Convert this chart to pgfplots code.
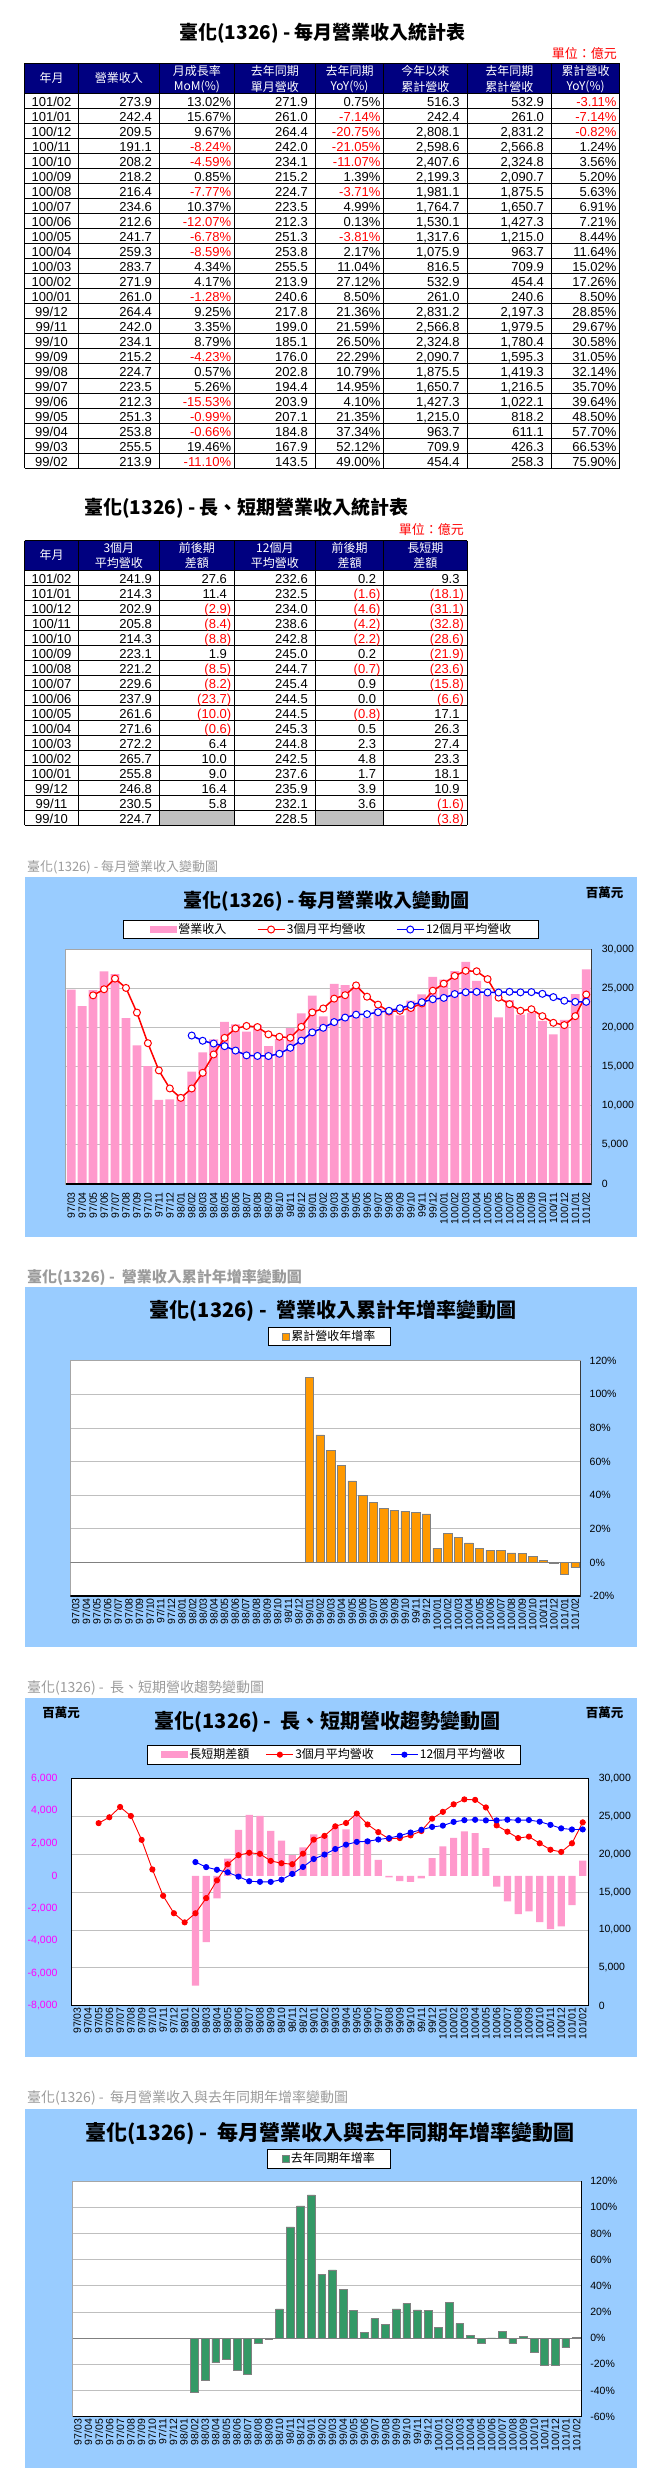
\documentclass[border=0pt]{standalone}
\usepackage{fontspec}
\setmainfont{Liberation Sans}
\newfontfamily\cjk{Noto Sans CJK TC}
\usepackage{xcolor}
\usepackage{pgfplots}
\pgfplotsset{compat=1.18}
\definecolor{navyh}{RGB}{0,0,128}
\definecolor{chartbg}{RGB}{153,204,255}
\definecolor{barpink}{RGB}{255,153,204}
\definecolor{barorange}{RGB}{255,153,0}
\definecolor{bargreen}{RGB}{51,153,102}
\definecolor{capgray}{RGB}{155,155,155}
\definecolor{cellgray}{RGB}{192,192,192}
\definecolor{magentat}{RGB}{255,0,255}
\newcommand\fs[1]{\fontsize{#1}{#1}\selectfont}
\newcommand\Rd[1]{\textcolor{red}{#1}}
\newcommand\Rp[1]{\textcolor{red}{#1}\kern-4.33pt}
\tikzset{
 tc/.style={anchor=base, inner sep=0pt, font=\fs{13}},
 tr/.style={anchor=base east, inner sep=0pt, font=\fs{13}},
 hd/.style={anchor=center, inner sep=0pt, font=\cjk\fs{12}, text=white},
 captxt/.style={anchor=west, inner sep=0pt, text=capgray},
 ttl/.style={anchor=center, inner sep=0pt},
}
\newcommand\rowA[9]{%
 \pgfmathsetmacro\yb{93.3+15*#1-1.6}%
 \node[tc] at (51.5,\yb) {#2};%
 \node[tr] at (156.4,\yb) {#3\phantom{)}};%
 \node[tr] at (231.4,\yb) {#4};%
 \node[tr] at (312.3,\yb) {#5\phantom{)}};%
 \node[tr] at (380.6,\yb) {#6};%
 \node[tr] at (464.1,\yb) {#7\phantom{)}};%
 \node[tr] at (548.4,\yb) {#8\phantom{)}};%
 \node[tr] at (616.7,\yb) {#9};%
}
\newcommand\rowB[7]{%
 \pgfmathsetmacro\yb{570+15*#1-1.6}%
 \node[tc] at (51.5,\yb) {#2};%
 \node[tr] at (156.4,\yb) {#3\phantom{)}};%
 \node[tr] at (231.4,\yb) {#4\phantom{)}};%
 \node[tr] at (312.3,\yb) {#5\phantom{)}};%
 \node[tr] at (380.6,\yb) {#6\phantom{)}};%
 \node[tr] at (464.1,\yb) {#7\phantom{)}};%
}
\pgfplotsset{
 months/.style={xtick={0,...,47}, xticklabels={97/03,97/04,97/05,97/06,97/07,97/08,97/09,97/10,97/11,97/12,98/01,98/02,98/03,98/04,98/05,98/06,98/07,98/08,98/09,98/10,98/11,98/12,99/01,99/02,99/03,99/04,99/05,99/06,99/07,99/08,99/09,99/10,99/11,99/12,100/01,100/02,100/03,100/04,100/05,100/06,100/07,100/08,100/09,100/10,100/11,100/12,101/01,101/02}},
 chart/.style={scale only axis, anchor=south west, xmin=-0.5, xmax=47.5, months,
   scaled y ticks=false, scaled x ticks=false,
   xticklabel style={rotate=90, anchor=east, font=\fs{10.5}, inner ysep=0pt},
   yticklabel style={font=\fs{10.5}, inner sep=0pt},
   tick style={draw=none},
   axis background/.style={fill=white},
   grid style={line width=0.8pt, draw=gray!50},
   /pgf/number format/assume math mode=true,
   legend columns=3,
   legend style={draw=black, line width=0.9pt, font=\cjk\fs{12}, anchor=center, inner ysep=2pt, nodes={inner sep=1.5pt}},
 },
 lineleg/.style={legend image code/.code={\draw[mark repeat=2,mark phase=2,##1] plot coordinates {(0pt,0pt) (13.5pt,0pt) (27pt,0pt)};}},
}
\begin{document}
\begin{tikzpicture}
\useasboundingbox (0,0) rectangle (661pt,-2479pt);
\fill[white] (0,0) rectangle (661pt,-2479pt);
\begin{scope}[x=1pt,y=-1pt]
% ---------- Table 1 ----------
\node[ttl, font=\cjk\bfseries\fs{19}] at (322.5,33.3) {臺化(1326) - 每月營業收入統計表};
\node[anchor=east, inner sep=0pt, font=\cjk\fs{13}, text=red] at (617,53.3) {單位：億元};
\fill[navyh] (24.5,63.3) rectangle (619.7,93.3);
\draw[line width=0.9pt] (24.5,63.3) -- (619.7,63.3);
\foreach \k in {0,...,25} \draw[line width=0.9pt] (24.5,{93.3+15*\k}) -- (619.7,{93.3+15*\k});
\foreach \xx in {24.5,78.4,159.4,234.4,315.3,383.6,467.1,551.4,619.7} \draw[line width=0.9pt] (\xx,63.3) -- (\xx,468.3);
\node[hd] at (51.5,78.3) {年月};
\node[hd] at (118.9,78.3) {營業收入};
\node[hd] at (196.9,71) {月成長率}; \node[hd] at (196.9,86.7) {MoM(\%)};
\node[hd] at (274.9,71) {去年同期}; \node[hd] at (274.9,86.7) {單月營收};
\node[hd] at (349.5,71) {去年同期}; \node[hd] at (349.5,86.7) {YoY(\%)};
\node[hd] at (425.4,71) {今年以來}; \node[hd] at (425.4,86.7) {累計營收};
\node[hd] at (509.3,71) {去年同期}; \node[hd] at (509.3,86.7) {累計營收};
\node[hd] at (585.6,71) {累計營收}; \node[hd] at (585.6,86.7) {YoY(\%)};
\rowA{1}{101/02}{273.9}{13.02\%}{271.9}{0.75\%}{516.3}{532.9}{\Rd{-3.11\%}}
\rowA{2}{101/01}{242.4}{15.67\%}{261.0}{\Rd{-7.14\%}}{242.4}{261.0}{\Rd{-7.14\%}}
\rowA{3}{100/12}{209.5}{9.67\%}{264.4}{\Rd{-20.75\%}}{2,808.1}{2,831.2}{\Rd{-0.82\%}}
\rowA{4}{100/11}{191.1}{\Rd{-8.24\%}}{242.0}{\Rd{-21.05\%}}{2,598.6}{2,566.8}{1.24\%}
\rowA{5}{100/10}{208.2}{\Rd{-4.59\%}}{234.1}{\Rd{-11.07\%}}{2,407.6}{2,324.8}{3.56\%}
\rowA{6}{100/09}{218.2}{0.85\%}{215.2}{1.39\%}{2,199.3}{2,090.7}{5.20\%}
\rowA{7}{100/08}{216.4}{\Rd{-7.77\%}}{224.7}{\Rd{-3.71\%}}{1,981.1}{1,875.5}{5.63\%}
\rowA{8}{100/07}{234.6}{10.37\%}{223.5}{4.99\%}{1,764.7}{1,650.7}{6.91\%}
\rowA{9}{100/06}{212.6}{\Rd{-12.07\%}}{212.3}{0.13\%}{1,530.1}{1,427.3}{7.21\%}
\rowA{10}{100/05}{241.7}{\Rd{-6.78\%}}{251.3}{\Rd{-3.81\%}}{1,317.6}{1,215.0}{8.44\%}
\rowA{11}{100/04}{259.3}{\Rd{-8.59\%}}{253.8}{2.17\%}{1,075.9}{963.7}{11.64\%}
\rowA{12}{100/03}{283.7}{4.34\%}{255.5}{11.04\%}{816.5}{709.9}{15.02\%}
\rowA{13}{100/02}{271.9}{4.17\%}{213.9}{27.12\%}{532.9}{454.4}{17.26\%}
\rowA{14}{100/01}{261.0}{\Rd{-1.28\%}}{240.6}{8.50\%}{261.0}{240.6}{8.50\%}
\rowA{15}{99/12}{264.4}{9.25\%}{217.8}{21.36\%}{2,831.2}{2,197.3}{28.85\%}
\rowA{16}{99/11}{242.0}{3.35\%}{199.0}{21.59\%}{2,566.8}{1,979.5}{29.67\%}
\rowA{17}{99/10}{234.1}{8.79\%}{185.1}{26.50\%}{2,324.8}{1,780.4}{30.58\%}
\rowA{18}{99/09}{215.2}{\Rd{-4.23\%}}{176.0}{22.29\%}{2,090.7}{1,595.3}{31.05\%}
\rowA{19}{99/08}{224.7}{0.57\%}{202.8}{10.79\%}{1,875.5}{1,419.3}{32.14\%}
\rowA{20}{99/07}{223.5}{5.26\%}{194.4}{14.95\%}{1,650.7}{1,216.5}{35.70\%}
\rowA{21}{99/06}{212.3}{\Rd{-15.53\%}}{203.9}{4.10\%}{1,427.3}{1,022.1}{39.64\%}
\rowA{22}{99/05}{251.3}{\Rd{-0.99\%}}{207.1}{21.35\%}{1,215.0}{818.2}{48.50\%}
\rowA{23}{99/04}{253.8}{\Rd{-0.66\%}}{184.8}{37.34\%}{963.7}{611.1}{57.70\%}
\rowA{24}{99/03}{255.5}{19.46\%}{167.9}{52.12\%}{709.9}{426.3}{66.53\%}
\rowA{25}{99/02}{213.9}{\Rd{-11.10\%}}{143.5}{49.00\%}{454.4}{258.3}{75.90\%}
% ---------- Table 2 ----------
\node[ttl, font=\cjk\bfseries\fs{19}] at (246.6,508.3) {臺化(1326) - 長、短期營業收入統計表};
\node[anchor=east, inner sep=0pt, font=\cjk\fs{13}, text=red] at (464,529.3) {單位：億元};
\fill[navyh] (24.5,540.7) rectangle (467.1,570);
\fill[cellgray] (159.4,810) rectangle (234.4,825);
\fill[cellgray] (315.3,810) rectangle (383.6,825);
\draw[line width=0.9pt] (24.5,540.7) -- (467.1,540.7);
\foreach \k in {0,...,17} \draw[line width=0.9pt] (24.5,{570+15*\k}) -- (467.1,{570+15*\k});
\foreach \xx in {24.5,78.4,159.4,234.4,315.3,383.6,467.1} \draw[line width=0.9pt] (\xx,540.7) -- (\xx,825);
\node[hd] at (51.5,555.3) {年月};
\node[hd] at (118.9,548.3) {3個月}; \node[hd] at (118.9,563.3) {平均營收};
\node[hd] at (196.9,548.3) {前後期}; \node[hd] at (196.9,563.3) {差額};
\node[hd] at (274.9,548.3) {12個月}; \node[hd] at (274.9,563.3) {平均營收};
\node[hd] at (349.5,548.3) {前後期}; \node[hd] at (349.5,563.3) {差額};
\node[hd] at (425.4,548.3) {長短期}; \node[hd] at (425.4,563.3) {差額};
\rowB{1}{101/02}{241.9}{27.6}{232.6}{0.2}{9.3}
\rowB{2}{101/01}{214.3}{11.4}{232.5}{\Rp{(1.6)}}{\Rp{(18.1)}}
\rowB{3}{100/12}{202.9}{\Rp{(2.9)}}{234.0}{\Rp{(4.6)}}{\Rp{(31.1)}}
\rowB{4}{100/11}{205.8}{\Rp{(8.4)}}{238.6}{\Rp{(4.2)}}{\Rp{(32.8)}}
\rowB{5}{100/10}{214.3}{\Rp{(8.8)}}{242.8}{\Rp{(2.2)}}{\Rp{(28.6)}}
\rowB{6}{100/09}{223.1}{1.9}{245.0}{0.2}{\Rp{(21.9)}}
\rowB{7}{100/08}{221.2}{\Rp{(8.5)}}{244.7}{\Rp{(0.7)}}{\Rp{(23.6)}}
\rowB{8}{100/07}{229.6}{\Rp{(8.2)}}{245.4}{0.9}{\Rp{(15.8)}}
\rowB{9}{100/06}{237.9}{\Rp{(23.7)}}{244.5}{0.0}{\Rp{(6.6)}}
\rowB{10}{100/05}{261.6}{\Rp{(10.0)}}{244.5}{\Rp{(0.8)}}{17.1}
\rowB{11}{100/04}{271.6}{\Rp{(0.6)}}{245.3}{0.5}{26.3}
\rowB{12}{100/03}{272.2}{6.4}{244.8}{2.3}{27.4}
\rowB{13}{100/02}{265.7}{10.0}{242.5}{4.8}{23.3}
\rowB{14}{100/01}{255.8}{9.0}{237.6}{1.7}{18.1}
\rowB{15}{99/12}{246.8}{16.4}{235.9}{3.9}{10.9}
\rowB{16}{99/11}{230.5}{5.8}{232.1}{3.6}{\Rp{(1.6)}}
\rowB{17}{99/10}{224.7}{}{228.5}{}{\Rp{(3.8)}}
% ---------- chart frames ----------
\fill[chartbg] (24.5,877.3) rectangle (636.6,1236.7);
\node[captxt, font=\cjk\fs{13}] at (27,867.3) {臺化(1326) - 每月營業收入變動圖};
\node[ttl, font=\cjk\bfseries\fs{19}] at (326.7,900.7) {臺化(1326) - 每月營業收入變動圖};
\node[ttl, font=\cjk\bfseries\fs{12.5}] at (604.5,893) {百萬元};
\fill[chartbg] (24.5,1286.7) rectangle (636.6,1647);
\node[captxt, font=\cjk\bfseries\fs{15}] at (27,1277.7) {臺化(1326) -\ \ 營業收入累計年增率變動圖};
\node[ttl, font=\cjk\bfseries\fs{20}] at (333,1311) {臺化(1326) -\ \ 營業收入累計年增率變動圖};
\fill[chartbg] (24.5,1698.3) rectangle (636.6,2057.3);
\node[captxt, font=\cjk\fs{14}] at (27,1687.7) {臺化(1326) -\ \ 長、短期營收趨勢變動圖};
\node[ttl, font=\cjk\bfseries\fs{20}] at (327.7,1721.7) {臺化(1326) -\ \ 長、短期營收趨勢變動圖};
\node[ttl, font=\cjk\bfseries\fs{12.5}] at (61,1713) {百萬元};
\node[ttl, font=\cjk\bfseries\fs{12.5}] at (604.5,1713) {百萬元};
\fill[chartbg] (24.5,2109.3) rectangle (636.6,2468.3);
\node[captxt, font=\cjk\fs{14}] at (27,2098.3) {臺化(1326) -\ \ 每月營業收入與去年同期年增率變動圖};
\node[ttl, font=\cjk\bfseries\fs{21}] at (329.8,2133.3) {臺化(1326) -\ \ 每月營業收入與去年同期年增率變動圖};
\end{scope}
% ---------- Chart 1 ----------
\begin{axis}[chart, at={(65.7pt,-1184pt)}, width=526pt, height=235pt,
  ymin=0, ymax=30000, ytick={0,5000,10000,15000,20000,25000,30000},
  yticklabels={0,{5,000},{10,000},{15,000},{20,000},{25,000},{30,000}},
  yticklabel pos=right, yticklabel style={anchor=west, xshift=10pt},
  ymajorgrids, axis line style={draw=gray!70, line width=0.8pt},
  xticklabel style={inner xsep=8pt},
  legend style={at={(0.505,1.083)}, inner xsep=26pt, /tikz/every even column/.append style={column sep=29pt}}]
\addplot[ybar, bar width=8.8pt, fill=barpink, draw=none, legend image code/.code={\fill[barpink] (0pt,-3.5pt) rectangle (27pt,3.5pt);}] coordinates {(0,24820) (1,22700) (2,24740) (3,27150) (4,26780) (5,21170) (6,17700) (7,15060) (8,10750) (9,10790) (10,11450) (11,14350) (12,16790) (13,18480) (14,20710) (15,20390) (16,19440) (17,20280) (18,17600) (19,18510) (20,19900) (21,21780) (22,24060) (23,21390) (24,25550) (25,25380) (26,25130) (27,21230) (28,22350) (29,22470) (30,21520) (31,23410) (32,24200) (33,26440) (34,26100) (35,27190) (36,28370) (37,25930) (38,24170) (39,21260) (40,23460) (41,21640) (42,21820) (43,20820) (44,19110) (45,20950) (46,24240) (47,27390)};
\addlegendentry{營業收入}
\addplot[red, line width=1.5pt, mark=*, mark size=3.5pt, mark options={fill=white, line width=1pt}, lineleg] coordinates {(2,24087) (3,24863) (4,26223) (5,25033) (6,21883) (7,17977) (8,14503) (9,12200) (10,10997) (11,12197) (12,14197) (13,16540) (14,18660) (15,19860) (16,20180) (17,20037) (18,19107) (19,18797) (20,18670) (21,20063) (22,21913) (23,22410) (24,23667) (25,24107) (26,25353) (27,23913) (28,22903) (29,22017) (30,22113) (31,22470) (32,23050) (33,24680) (34,25580) (35,26570) (36,27220) (37,27160) (38,26160) (39,23790) (40,22960) (41,22120) (42,22310) (43,21430) (44,20580) (45,20290) (46,21430) (47,24190)};
\addlegendentry{3個月平均營收}
\addplot[blue, line width=1.5pt, mark=*, mark size=3.5pt, mark options={fill=white, line width=1pt}, lineleg] coordinates {(11,18955) (12,18286) (13,17934) (14,17598) (15,17035) (16,16423) (17,16349) (18,16341) (19,16628) (20,17391) (21,18307) (22,19358) (23,19944) (24,20674) (25,21249) (26,21618) (27,21688) (28,21930) (29,22113) (30,22439) (31,22850) (32,23210) (33,23590) (34,23760) (35,24250) (36,24480) (37,24530) (38,24450) (39,24450) (40,24540) (41,24470) (42,24500) (43,24280) (44,23860) (45,23400) (46,23250) (47,23260)};
\addlegendentry{12個月平均營收}
\draw[black, line width=1.2pt] (rel axis cs:0,0) -- (rel axis cs:1,0) -- (rel axis cs:1,1);
\end{axis}
% ---------- Chart 2 ----------
\begin{axis}[chart, at={(70.4pt,-1596pt)}, width=510.1pt, height=235.3pt,
  ymin=-20, ymax=120, ytick={-20,0,20,40,60,80,100,120},
  yticklabels={{-20\%},{0\%},{20\%},{40\%},{60\%},{80\%},{100\%},{120\%}},
  yticklabel pos=right, yticklabel style={anchor=west, xshift=9pt},
  ymajorgrids, axis line style={draw=gray!70, line width=0.8pt},
  xticklabel style={inner xsep=2pt},
  legend style={at={(0.508,1.103)}, inner xsep=14pt}]
\addplot[ybar, bar width=8.4pt, fill=barorange, draw=gray, line width=0.6pt, legend image code/.code={\filldraw[fill=barorange, draw=gray, line width=0.5pt] (0pt,-3.5pt) rectangle (7pt,3.5pt);}] coordinates {(22,110) (23,75.90) (24,66.53) (25,57.70) (26,48.50) (27,39.64) (28,35.70) (29,32.14) (30,31.05) (31,30.58) (32,29.67) (33,28.85) (34,8.50) (35,17.26) (36,15.02) (37,11.64) (38,8.44) (39,7.21) (40,6.91) (41,5.63) (42,5.20) (43,3.56) (44,1.24) (45,-0.82) (46,-7.14) (47,-3.11)};
\addlegendentry{累計營收年增率}
\draw[gray, line width=1pt] (axis cs:-0.5,0) -- (axis cs:47.5,0);
\draw[black, line width=1.2pt] (rel axis cs:0,0) -- (rel axis cs:1,0) -- (rel axis cs:1,1);
\end{axis}
% ---------- Chart 3 ----------
\begin{axis}[chart, at={(71.7pt,-2005.7pt)}, width=516.4pt, height=227.4pt,
  ymin=-8000, ymax=6000, ytick={-8000,-6000,-4000,-2000,0,2000,4000,6000},
  yticklabels={{-8,000},{-6,000},{-4,000},{-2,000},0,{2,000},{4,000},{6,000}},
  yticklabel style={anchor=east, xshift=-14pt, text=magentat},
  extra y ticks={-5666.7,-3333.3,-1000,1333.3,3666.7}, extra y tick labels={}, extra y tick style={grid=major},
  axis line style={draw=black, line width=1pt},
  xticklabel style={inner xsep=1.5pt}]
\addplot[ybar, bar width=7.2pt, fill=barpink, draw=none] coordinates {(11,-6758) (12,-4089) (13,-1394) (14,1062) (15,2825) (16,3757) (17,3688) (18,2766) (19,2169) (20,1279) (21,1756) (22,2555) (23,2466) (24,2993) (25,2858) (26,3735) (27,2225) (28,973) (29,-96) (30,-326) (31,-380) (32,-160) (33,1090) (34,1810) (35,2330) (36,2740) (37,2630) (38,1710) (39,-660) (40,-1580) (41,-2360) (42,-2190) (43,-2860) (44,-3280) (45,-3110) (46,-1810) (47,930)};
\end{axis}
\begin{axis}[chart, at={(71.7pt,-2005.7pt)}, width=516.4pt, height=227.4pt,
  ymin=0, ymax=30000, ytick={0,5000,10000,15000,20000,25000,30000},
  yticklabels={0,{5,000},{10,000},{15,000},{20,000},{25,000},{30,000}},
  yticklabel pos=right, yticklabel style={anchor=west, xshift=10.5pt},
  xtick=\empty, axis background/.style={},
  axis line style={draw=black, line width=1pt},
  legend style={at={(0.508,1.104)}, inner xsep=14pt, /tikz/every even column/.append style={column sep=15pt}}]
\addlegendimage{legend image code/.code={\fill[barpink] (0pt,-3pt) rectangle (25.7pt,3pt);}}
\addlegendentry{長短期差額}
\addplot[red, line width=0.9pt, mark=*, mark size=2.6pt, lineleg] coordinates {(2,24087) (3,24863) (4,26223) (5,25033) (6,21883) (7,17977) (8,14503) (9,12200) (10,10997) (11,12197) (12,14197) (13,16540) (14,18660) (15,19860) (16,20180) (17,20037) (18,19107) (19,18797) (20,18670) (21,20063) (22,21913) (23,22410) (24,23667) (25,24107) (26,25353) (27,23913) (28,22903) (29,22017) (30,22113) (31,22470) (32,23050) (33,24680) (34,25580) (35,26570) (36,27220) (37,27160) (38,26160) (39,23790) (40,22960) (41,22120) (42,22310) (43,21430) (44,20580) (45,20290) (46,21430) (47,24190)};
\addlegendentry{3個月平均營收}
\addplot[blue, line width=0.9pt, mark=*, mark size=2.6pt, lineleg] coordinates {(11,18955) (12,18286) (13,17934) (14,17598) (15,17035) (16,16423) (17,16349) (18,16341) (19,16628) (20,17391) (21,18307) (22,19358) (23,19944) (24,20674) (25,21249) (26,21618) (27,21688) (28,21930) (29,22113) (30,22439) (31,22850) (32,23210) (33,23590) (34,23760) (35,24250) (36,24480) (37,24530) (38,24450) (39,24450) (40,24540) (41,24470) (42,24500) (43,24280) (44,23860) (45,23400) (46,23250) (47,23260)};
\addlegendentry{12個月平均營收}
\end{axis}
% ---------- Chart 4 ----------
\begin{axis}[chart, at={(72.5pt,-2416.7pt)}, width=509.3pt, height=235.7pt,
  ymin=-60, ymax=120, ytick={-60,-40,-20,0,20,40,60,80,100,120},
  yticklabels={{-60\%},{-40\%},{-20\%},{0\%},{20\%},{40\%},{60\%},{80\%},{100\%},{120\%}},
  yticklabel pos=right, yticklabel style={anchor=west, xshift=8.4pt},
  ymajorgrids, axis line style={draw=gray!70, line width=0.8pt},
  xticklabel style={inner xsep=2pt},
  legend style={at={(0.504,1.095)}, inner xsep=14pt}]
\addplot[ybar, bar width=7.8pt, fill=bargreen, draw=gray, line width=0.6pt, legend image code/.code={\filldraw[fill=bargreen, draw=gray, line width=0.5pt] (0pt,-3.5pt) rectangle (7pt,3.5pt);}] coordinates {(11,-41.5) (12,-32.3) (13,-18.8) (14,-16.5) (15,-24.9) (16,-27.7) (17,-4.3) (18,-0.8) (19,22.4) (20,85.0) (21,101.0) (22,109.4) (23,49.00) (24,52.12) (25,37.34) (26,21.35) (27,4.10) (28,14.95) (29,10.79) (30,22.29) (31,26.50) (32,21.59) (33,21.36) (34,8.50) (35,27.12) (36,11.04) (37,2.17) (38,-3.81) (39,0.13) (40,4.99) (41,-3.71) (42,1.39) (43,-11.07) (44,-21.05) (45,-20.75) (46,-7.14) (47,0.75)};
\addlegendentry{去年同期年增率}
\draw[gray, line width=1pt] (axis cs:-0.5,0) -- (axis cs:47.5,0);
\draw[black, line width=1.2pt] (rel axis cs:0,0) -- (rel axis cs:1,0) -- (rel axis cs:1,1);
\end{axis}
\end{tikzpicture}
\end{document}
